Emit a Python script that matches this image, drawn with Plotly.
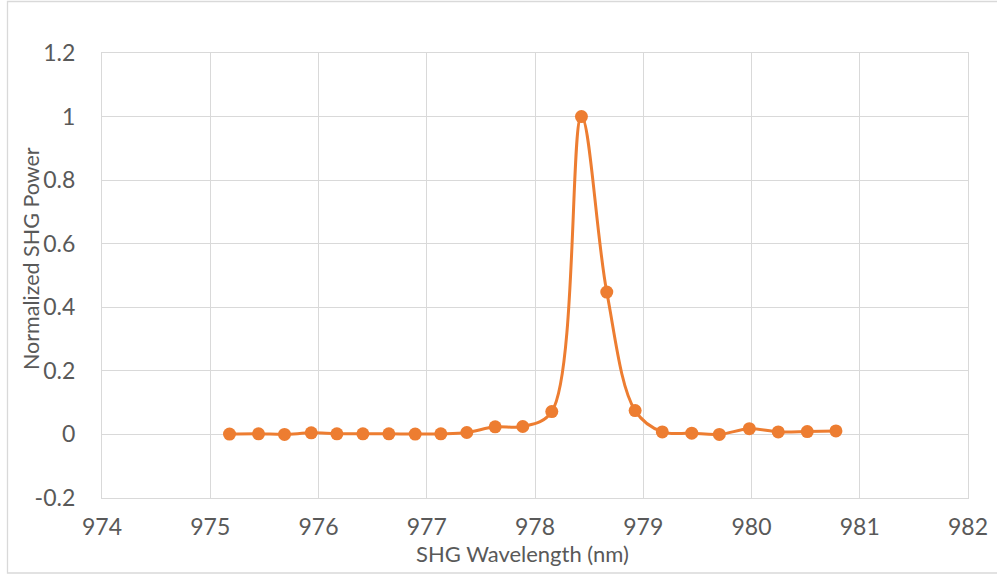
import plotly.graph_objects as go

# Data
wavelength_nm = [975.178, 975.446, 975.686, 975.933, 976.170, 976.410, 976.650,
                 976.893, 977.130, 977.370, 977.632, 977.887, 978.155, 978.429,
                 978.663, 978.925, 979.176, 979.448, 979.703, 979.980, 980.247,
                 980.515, 980.780]
shg_power = [0.001, 0.002, 0.000, 0.005, 0.002, 0.002, 0.002,
             0.001, 0.002, 0.006, 0.024, 0.025, 0.072, 1.000,
             0.448, 0.075, 0.008, 0.004, 0.000, 0.018, 0.008,
             0.009, 0.011]

x_ticks = [974, 975, 976, 977, 978, 979, 980, 981, 982]
y_ticks = [-0.2, 0, 0.2, 0.4, 0.6, 0.8, 1, 1.2]
y_tick_text = ["-0.2", "0", "0.2", "0.4", "0.6", "0.8", "1", "1.2"]

ORANGE = "#ED7D31"
GRID = "#d9d9d9"
TEXT = "#595959"
FONT = "Lato, 'Open Sans', sans-serif"

W, H = 997, 575
L, R, T, B = 102, 968, 53, 498

fig = go.Figure()
fig.add_trace(go.Scatter(
    x=wavelength_nm, y=shg_power, mode="lines+markers",
    line=dict(color=ORANGE, width=3, shape="spline", smoothing=1.0),
    marker=dict(color=ORANGE, size=13),
    showlegend=False,
))

pw, ph = R - L, B - T

def px_x(p):
    return (p - L) / pw

def px_y(p):
    return (B - p) / ph

fig.update_layout(
    width=W, height=H,
    margin=dict(l=L, r=W - R, t=T, b=H - B, autoexpand=False),
    paper_bgcolor="white", plot_bgcolor="white",
    font=dict(family=FONT, color=TEXT, size=22),
    xaxis=dict(range=[974, 982], tickvals=x_ticks, ticktext=[str(v) for v in x_ticks],
               showgrid=True, gridcolor=GRID, gridwidth=1.3, zeroline=False,
               showline=True, linecolor=GRID, linewidth=1.3, mirror=True,
               ticks="", ticklabelstandoff=8, fixedrange=True, automargin=False,
               tickfont=dict(size=23, color=TEXT, family=FONT)),
    yaxis=dict(range=[-0.2, 1.2], tickvals=y_ticks, ticktext=y_tick_text,
               showgrid=True, gridcolor=GRID, gridwidth=1.3, zeroline=False,
               showline=True, linecolor=GRID, linewidth=1.3, mirror=True,
               ticks="", ticklabelstandoff=21, fixedrange=True, automargin=False,
               tickfont=dict(size=23, color=TEXT, family=FONT)),
    annotations=[
        dict(text="SHG Wavelength (nm)", xref="paper", yref="paper",
             x=px_x(522), y=px_y(553), xanchor="center", yanchor="middle",
             showarrow=False, font=dict(size=22, color=TEXT, family=FONT)),
        dict(text="Normalized SHG Power", xref="paper", yref="paper",
             x=px_x(31), y=px_y(259), xanchor="center", yanchor="middle",
             textangle=-90, showarrow=False,
             font=dict(size=21.5, color=TEXT, family=FONT)),
    ],
    shapes=[
        dict(type="rect", xref="paper", yref="paper",
             x0=px_x(7.5), x1=px_x(1010), y0=px_y(573), y1=px_y(1.5),
             line=dict(color=GRID, width=1.3), layer="below"),
    ],
)

fig.write_html("out.html")
